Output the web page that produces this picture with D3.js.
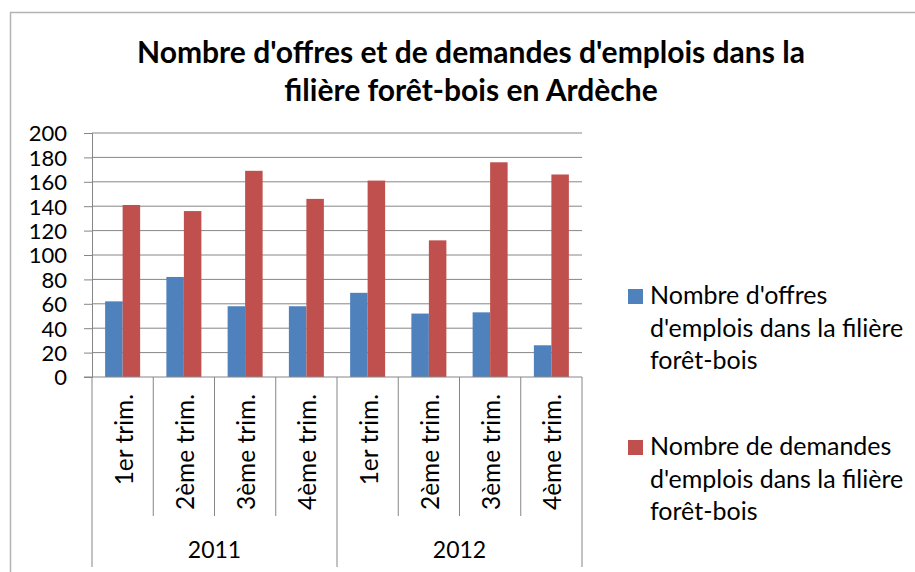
<!DOCTYPE html>
<html>
<head>
<meta charset="utf-8">
<script src="https://cdn.jsdelivr.net/npm/d3@7"></script>
<style>
  body { margin: 0; background: #fff; }
  text { font-family: Lato, "Open Sans", sans-serif; fill: #000; }
</style>
</head>
<body>
<div id="chart"></div>
<script>
// data
const years = ["2011", "2012"];
const quarters = ["1er trim.", "2ème trim.", "3ème trim.", "4ème trim."];
const offres = [62, 82, 58, 58, 69, 52, 53, 26];
const demandes = [141, 136, 169, 146, 161, 112, 176, 166];
const seriesNames = [
  ["Nombre d'offres", "d'emplois dans la filière", "forêt-bois"],
  ["Nombre de demandes", "d'emplois dans la filière", "forêt-bois"]
];
const yTicks = [0, 20, 40, 60, 80, 100, 120, 140, 160, 180, 200];
const colors = ["#4F81BD", "#C0504D"];

const W = 915, H = 572;
const plot = {left: 92, right: 582, top: 133, bottom: 377};

const svg = d3.select("#chart").append("svg")
    .attr("width", W)
    .attr("height", H);

// chart border
svg.append("rect")
    .attr("x", 10.5).attr("y", 12.5)
    .attr("width", W + 20).attr("height", H + 20)
    .attr("fill", "none")
    .attr("stroke", "#b3b3b3")
    .attr("stroke-width", 1.5);

// title
const title = svg.append("text")
    .attr("text-anchor", "middle")
    .style("font-weight", "bold")
    .style("font-size", "30px");
title.append("tspan").attr("x", 471).attr("y", 63).text("Nombre d'offres et de demandes d'emplois dans la");
title.append("tspan").attr("x", 471).attr("y", 101).text("filière forêt-bois en Ardèche");

// category list (year + quarter)
const cats = [];
years.forEach(y => quarters.forEach(q => cats.push(y + "|" + q)));

const x = d3.scaleBand()
    .domain(cats)
    .range([plot.left, plot.right])
    .padding(0);

const xs = d3.scaleBand()
    .domain([0, 1])
    .range([0, x.bandwidth()])
    .paddingInner(0)
    .paddingOuter(0.75);

const y = d3.scaleLinear()
    .domain([0, 200])
    .range([plot.bottom, plot.top]);

// y axis
const yAxis = svg.append("g")
    .attr("transform", "translate(" + plot.left + ",0)")
    .call(d3.axisLeft(y).tickValues(yTicks).tickSize(8).tickPadding(17).tickFormat(d3.format("d")));
yAxis.select(".domain").attr("stroke", "#868686");
yAxis.selectAll(".tick line").attr("stroke", "#868686");
yAxis.selectAll(".tick text").style("font-size", "22px").attr("dy", "0.36em");

// gridlines
svg.append("g")
    .selectAll("line")
    .data(yTicks.filter(d => d > 0))
    .join("line")
    .attr("x1", plot.left).attr("x2", plot.right)
    .attr("y1", d => y(d)).attr("y2", d => y(d))
    .attr("stroke", "#868686")
    .attr("stroke-width", 1);

// bars
const bars = svg.append("g");
cats.forEach((c, i) => {
  [offres[i], demandes[i]].forEach((v, s) => {
    bars.append("rect")
      .attr("x", x(c) + xs(s))
      .attr("width", xs.bandwidth())
      .attr("y", y(v))
      .attr("height", y(0) - y(v))
      .attr("fill", colors[s]);
  });
});

// category axis
const cax = svg.append("g").attr("stroke", "#868686").attr("stroke-width", 1);
cax.append("line")
    .attr("x1", plot.left - 8).attr("x2", plot.right)
    .attr("y1", plot.bottom).attr("y2", plot.bottom);
cats.concat([null]).forEach((c, i) => {
  const xx = i < cats.length ? x(c) : plot.right;
  const outer = i % quarters.length === 0;
  cax.append("line")
    .attr("x1", xx).attr("x2", xx)
    .attr("y1", plot.bottom)
    .attr("y2", outer ? 567 : 516);
});

// quarter labels (rotated)
svg.append("g")
    .selectAll("text")
    .data(cats)
    .join("text")
    .attr("transform", d => "translate(" + (x(d) + x.bandwidth() / 2 + 10) + ",394) rotate(-90)")
    .attr("text-anchor", "end")
    .style("font-size", "24.5px")
    .text(d => d.split("|")[1]);

// year labels
svg.append("g")
    .selectAll("text")
    .data(years)
    .join("text")
    .attr("x", (d, i) => (x(d + "|" + quarters[0]) + x(d + "|" + quarters[3]) + x.bandwidth()) / 2)
    .attr("y", 558)
    .attr("text-anchor", "middle")
    .style("font-size", "23px")
    .text(d => d);

// legend
const leg = svg.append("g");
seriesNames.forEach((lines, s) => {
  const top = s === 0 ? 289 : 440;
  leg.append("rect")
    .attr("x", 628).attr("y", top)
    .attr("width", 15).attr("height", 15)
    .attr("fill", colors[s]);
  const t = leg.append("text").style("font-size", "25px");
  lines.forEach((l, k) => {
    t.append("tspan").attr("x", 650).attr("y", top + 15 + k * 32.5).text(l);
  });
});
</script>
</body>
</html>
